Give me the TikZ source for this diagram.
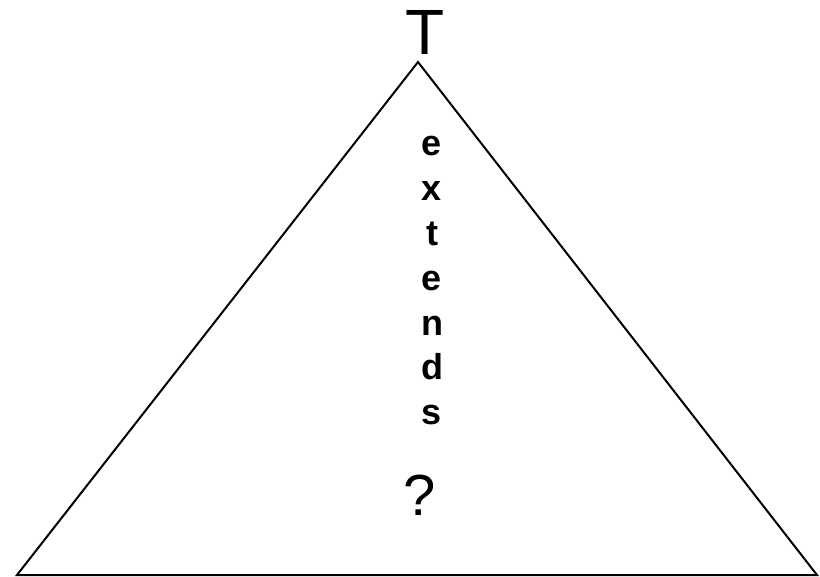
\documentclass[tikz,border=0pt]{standalone}
\usepackage{fontspec}
\setmainfont{Liberation Sans}
\usetikzlibrary{positioning}
\tikzset{
  side/.style={line width=2pt,line join=miter},
  letter/.style={font=\fontsize{36}{36}\selectfont\bfseries,anchor=base,inner sep=0pt},
  big/.style={font=\fontsize{64}{64}\selectfont,anchor=base,inner sep=0pt},
}

\begin{document}
\begin{tikzpicture}[x=1pt,y=-1pt]
  \useasboundingbox (0,0) rectangle (820,577);
  \coordinate (apex) at (418,62);
  \coordinate (bl) at (17,575);
  \coordinate (br) at (817,575);
  \draw[side] (apex) -- (bl) -- (br) -- cycle;
  \node[big] (tname) at (425.5,55) {T};
  % vertical word
  \foreach \ch [count=\i from 0] in {e,x,t,e,n,d,s}
    \node[letter] (l\i) at (432,156+44.8*\i) {\ch};
  \node[big,font=\fontsize{58}{58}\selectfont] (query) at (420,515) {?};
\end{tikzpicture}
\end{document}
